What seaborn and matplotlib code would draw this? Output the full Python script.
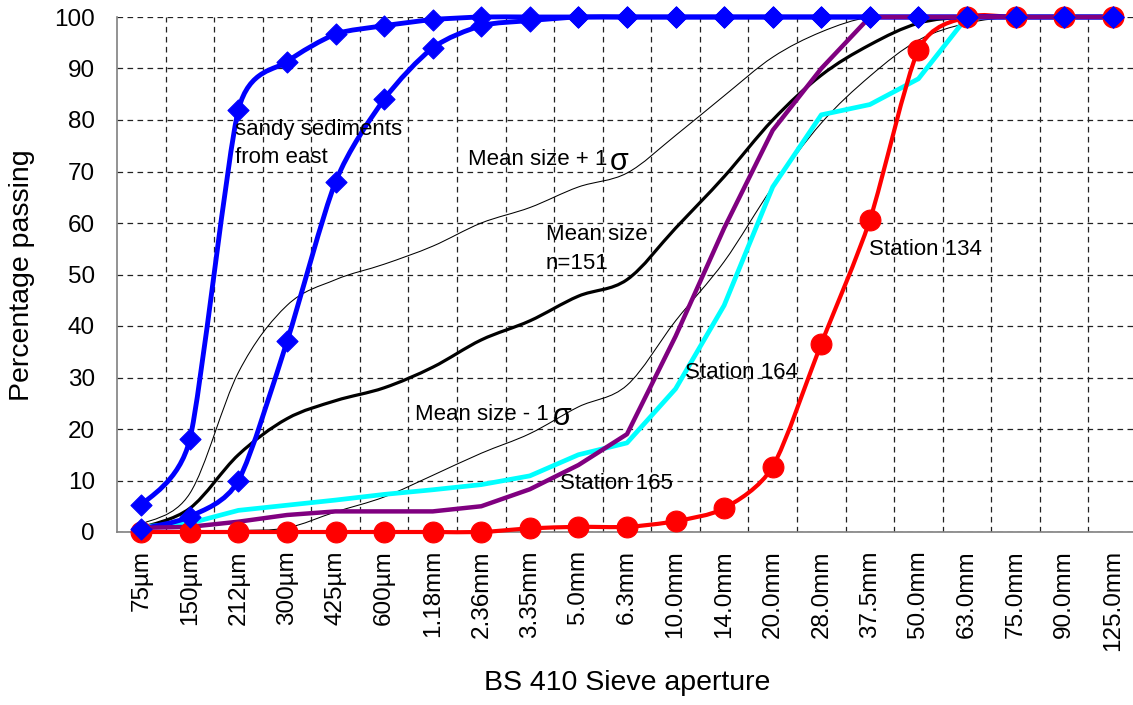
import numpy as np
import pandas as pd
import matplotlib
matplotlib.use("Agg")
import matplotlib.pyplot as plt
import seaborn as sns
from matplotlib.path import Path
from matplotlib.patches import PathPatch

# ---------------- data ----------------
sieve = ["75µm", "150µm", "212µm", "300µm", "425µm", "600µm", "1.18mm", "2.36mm",
         "3.35mm", "5.0mm", "6.3mm", "10.0mm", "14.0mm", "20.0mm", "28.0mm",
         "37.5mm", "50.0mm", "63.0mm", "75.0mm", "90.0mm", "125.0mm"]

sandy_east_fine = [5.2, 18, 82, 91.3, 96.7, 98.3, 99.5, 100, 100, 100, 100,
                   100, 100, 100, 100, 100, 100, 100, 100, 100, 100]
sandy_east_coarse = [0.6, 3, 10, 37, 68, 84, 94, 98.3, 99.3, 100, 100,
                     100, 100, 100, 100, 100, 100, 100, 100, 100, 100]
station_134 = [0, 0, 0, 0, 0, 0, 0, 0, 0.7, 1.0, 1.0,
               2.1, 4.6, 12.7, 36.6, 60.6, 93.6, 100, 100, 100, 100]
station_164 = [1.0, 1.7, 4.2, 5.2, 6.2, 7.3, 8.2, 9.2, 10.9, 15.0, 17.3,
               27.8, 44, 67, 81, 83, 88, 100, 100, 100, 100]
station_165 = [0.8, 1.0, 2.0, 3.3, 4.0, 4.0, 4.0, 5.0, 8.3, 13, 19,
               38, 59, 78, 90, 100, 100, 100, 100, 100, 100]
mean_size = [0.8, 4.6, 15, 22, 25.5, 28, 32, 37.3, 41, 45.8, 49,
             59, 69, 80, 88.7, 94.6, 98.8, 100, 100, 100, 100]
mean_plus_1sd = [1.5, 7.5, 31, 44, 49, 52, 55.5, 60, 63, 67, 69.7,
                 77, 84.7, 92.2, 97.1, 100, 100, 100, 100, 100, 100]
mean_minus_1sd = [0.2, 0.2, 0.3, 0.8, 3.9, 6.8, 11, 15.3, 19.1, 24.3, 28.5,
                  41, 52.5, 67, 79.4, 88.5, 95.5, 98.8, 100, 100, 100]

# ---------------- style ----------------
sns.set_theme(style="white")
plt.rcParams["font.family"] = ["Liberation Sans", "DejaVu Sans"]
plt.rcParams["text.color"] = "black"
plt.rcParams["axes.labelcolor"] = "black"
plt.rcParams["xtick.color"] = "black"
plt.rcParams["ytick.color"] = "black"

fig = plt.figure(figsize=(11.33, 7.05), dpi=100)
ax = fig.add_axes([117 / 1133, 1 - 532 / 705, 1020 / 1133, 515 / 705])

xpos = np.arange(len(sieve))


def smooth_curve(xs, ys, color, lw, z, t=1 / 6):
    pts = np.column_stack([xs, ys]).astype(float)
    n = len(pts)
    verts = [pts[0]]
    codes = [Path.MOVETO]
    for i in range(n - 1):
        p0 = pts[i - 1] if i > 0 else pts[i]
        p1 = pts[i]
        p2 = pts[i + 1]
        p3 = pts[i + 2] if i + 2 < n else pts[i + 1]
        c1 = p1 + (p2 - p0) * t
        c2 = p2 - (p3 - p1) * t
        verts += [c1, c2, p2]
        codes += [Path.CURVE4] * 3
    patch = PathPatch(Path(verts, codes), facecolor="none", edgecolor=color,
                      lw=lw, zorder=z, clip_on=False, joinstyle="round",
                      capstyle="round", transform=ax.transData)
    ax.add_patch(patch)


# thin envelope lines and mean
smooth_curve(xpos, mean_plus_1sd, "black", 0.75, 3)
smooth_curve(xpos, mean_minus_1sd, "black", 0.75, 3)
smooth_curve(xpos, mean_size, "black", 2.3, 4)

# straight-segment stations
df164 = pd.DataFrame({"x": xpos, "y": station_164})
df165 = pd.DataFrame({"x": xpos, "y": station_165})
sns.lineplot(data=df164, x="x", y="y", color="#00FFFF", lw=3.4, ax=ax,
             zorder=5, clip_on=False)

# smoothed red / blue
smooth_curve(xpos, station_134, "#FF0000", 3.0, 6, t=0.13)
smooth_curve(xpos, sandy_east_fine, "#0000FF", 3.5, 7, t=0.11)
smooth_curve(xpos, sandy_east_coarse, "#0000FF", 3.5, 7, t=0.13)

sns.lineplot(data=df165, x="x", y="y", color="#800080", lw=3.2, ax=ax,
             zorder=8, clip_on=False)

# markers
sns.scatterplot(x=xpos, y=station_134, marker="o", s=225, color="#FF0000",
                edgecolor="#FF0000", linewidth=0.8, ax=ax, zorder=9, clip_on=False)
sns.scatterplot(x=xpos, y=sandy_east_fine, marker="D", s=115, color="#0000FF",
                edgecolor="#0000FF", linewidth=0.8, ax=ax, zorder=10, clip_on=False)
sns.scatterplot(x=xpos, y=sandy_east_coarse, marker="D", s=115, color="#0000FF",
                edgecolor="#0000FF", linewidth=0.8, ax=ax, zorder=10, clip_on=False)

# ---------------- axes ----------------
ax.set_xlim(-0.5, len(sieve) - 0.5)
ax.set_ylim(0, 100)
ax.set_xticks(xpos)
ax.set_xticklabels(sieve, rotation=90, fontsize=17.5, va="top", ha="center")
ax.set_xticks(np.arange(0.5, len(sieve), 1.0), minor=True)
ax.set_yticks(np.arange(0, 101, 10))
ax.set_yticklabels([str(v) for v in range(0, 101, 10)], fontsize=17.5)
ax.tick_params(axis="both", which="both", length=0)
ax.tick_params(axis="x", which="major", pad=13)
ax.tick_params(axis="y", which="major", pad=16)

grid_kw = dict(color="#222222", lw=0.9, linestyle=(0, (4.5, 3.5)))
ax.grid(False)
ax.xaxis.grid(True, which="minor", **grid_kw)
ax.yaxis.grid(True, which="major", **grid_kw)
ax.set_axisbelow(True)

for side in ["top", "right"]:
    ax.spines[side].set_visible(False)
for side in ["left", "bottom"]:
    ax.spines[side].set_color("#808080")
    ax.spines[side].set_linewidth(1.2)
    ax.spines[side].set_zorder(2)

ax.set_xlabel("BS 410 Sieve aperture", fontsize=20.5, va="center")
ax.xaxis.set_label_coords(0.5, (532 - 683) / 515)
ax.set_ylabel("Percentage passing", fontsize=20.5, va="center")
ax.yaxis.set_label_coords((22 - 117) / 1020, (532 - 275) / 515)

# ---------------- annotations ----------------
fs = 16
txt = dict(fontsize=fs, color="black", ha="left", va="baseline", zorder=12)
ax.text(1.93, 77.1, "sandy sediments", **txt)
ax.text(1.93, 71.7, "from east", **txt)
ax.text(6.73, 71.3, "Mean size + 1", **txt)
ax.text(9.64, 70.3, "σ", fontsize=22, color="black", ha="left", va="baseline", zorder=12)
ax.text(8.33, 56.7, "Mean size", **txt)
ax.text(8.33, 51.0, "n=151", **txt)
ax.text(5.64, 21.75, "Mean size - 1", **txt)
ax.text(8.47, 20.8, "σ", fontsize=22, color="black", ha="left", va="baseline", zorder=12)
ax.text(11.19, 30.0, "Station 164", **txt)
ax.text(8.62, 8.3, "Station 165", **txt)
ax.text(14.98, 53.8, "Station 134", **txt)

fig.savefig("out.png", dpi=100)
